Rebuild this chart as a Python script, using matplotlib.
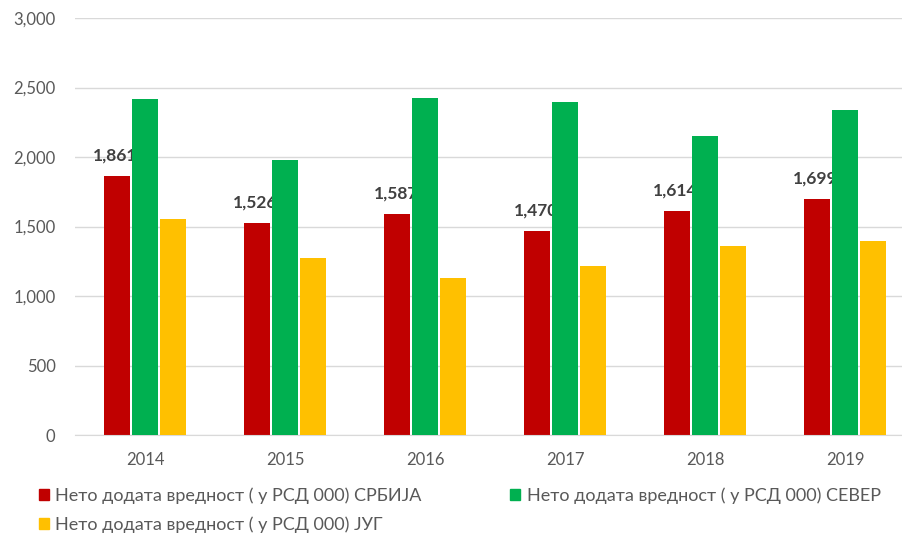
import numpy as np
import matplotlib.pyplot as plt
from matplotlib.patches import Patch
from matplotlib.ticker import StrMethodFormatter

plt.rcParams['font.family'] = ['Lato', 'DejaVu Sans']

years = ['2014', '2015', '2016', '2017', '2018', '2019']
srbija = [1861, 1526, 1587, 1470, 1614, 1699]
sever = [2420, 1980, 2425, 2395, 2150, 2335]
jug = [1555, 1275, 1130, 1215, 1360, 1395]

labels = ['Нето додата вредност ( у РСД 000) СРБИЈА',
          'Нето додата вредност ( у РСД 000) СЕВЕР',
          'Нето додата вредност ( у РСД 000) ЈУГ']
colors = ['#C00000', '#00B050', '#FFC000']
txt = '#595959'

fig = plt.figure(figsize=(9.03, 5.45), dpi=100)
ax = fig.add_axes([75 / 903, 1 - 435 / 545, 1 - 75 / 903, (435 - 18) / 545])

x = np.arange(len(years))
w = 0.185
ax.bar(x - 0.2, srbija, w, color=colors[0], zorder=2)
ax.bar(x, sever, w, color=colors[1], zorder=3)
ax.bar(x + 0.2, jug, w, color=colors[2], zorder=3)

# value labels on the first series, sitting behind the green bars
for xi, v in zip(x, srbija):
    ax.text(xi - 0.21, v + 90, f'{v:,}', ha='center', va='bottom',
            fontsize=12.5, fontweight='bold', color='#404040', zorder=2.5)

ax.set_xlim(-0.5, 5.414)
ax.set_ylim(0, 3000)
ax.set_yticks(np.arange(0, 3001, 500))
ax.yaxis.set_major_formatter(StrMethodFormatter('{x:,.0f}'))
ax.set_xticks(x)
ax.set_xticklabels(years)
ax.grid(axis='y', color='#D9D9D9', linewidth=1, zorder=0)
ax.set_axisbelow(True)
for s in ['top', 'right', 'left']:
    ax.spines[s].set_visible(False)
ax.spines['bottom'].set_color('#D9D9D9')
ax.tick_params(length=0, labelsize=12, labelcolor=txt)
ax.tick_params(axis='y', pad=14)
ax.tick_params(axis='x', pad=12)

# row-major order: СРБИЈА, СЕВЕР on the first row, ЈУГ below
order = [0, 2, 1]
handles = [Patch(color=colors[i], label=labels[i]) for i in order]
fig.legend(handles=handles, loc='upper left', bbox_to_anchor=(32 / 903, 1 - 480 / 545),
           ncol=2, frameon=False, fontsize=13, labelcolor=txt,
           handlelength=0.55, handleheight=0.55, handletextpad=0.35,
           columnspacing=4.9, labelspacing=0.7, borderaxespad=0)

fig.savefig('out.png', dpi=100)
